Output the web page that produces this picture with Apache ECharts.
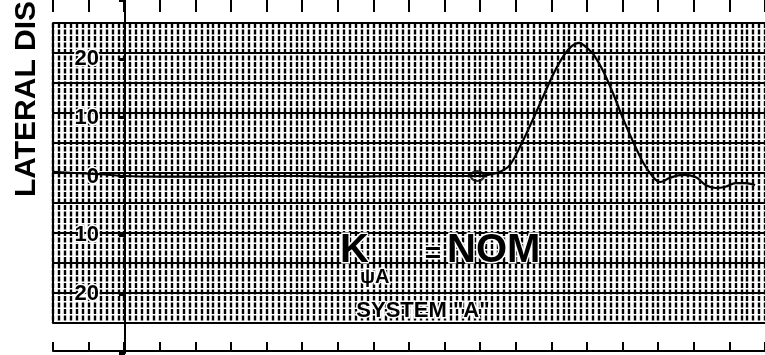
<!DOCTYPE html>
<html>
<head>
<meta charset="utf-8">
<script src="https://cdn.jsdelivr.net/npm/echarts@6.0.0/dist/echarts.min.js"></script>
<style>
html,body{margin:0;padding:0;background:#fff;}
#chart{width:765px;height:355px;}
</style>
</head>
<body>
<div id="chart"></div>
<script>
// ---- data ----
const timeVals = [-2, -1.39, -0.69, 0, 0.97, 2.08, 3.47, 4.86, 6.25, 7.64, 9.03, 9.92, 10.22, 10.56, 10.83, 11.17, 11.47, 11.81, 12.08, 12.36, 12.58, 12.78, 12.97, 13.19, 13.47, 13.75, 14.03, 14.31, 14.58, 14.86, 15.06, 15.33, 15.69, 16.06, 16.33, 16.61, 16.89, 17.17, 17.44, 17.72];
const lateralDisp = [0.2, 0, -0.2, -0.5, -0.6, -0.6, -0.5, -0.5, -0.6, -0.5, -0.5, -0.5, -0.3, 0.2, 1.3, 5, 8.8, 13.3, 16.8, 19.7, 21.2, 21.7, 21, 19.7, 16.8, 13, 8.8, 5, 1.7, -0.7, -1.5, -0.8, -0.3, -0.7, -2, -2.5, -2.3, -1.7, -1.7, -2];
const markerTime = [9.92];
const markerDisp = [-0.5];
const yTickVals = [20, 10, 0, -10, -20];
const yTickLabels = ['20', '10', '0', '10', '20'];
const axisTitle = 'LATERAL DIS';
const gainSymbol = 'K';
const gainSub = 'ψA';
const gainEq = '=';
const gainValue = 'NOM';
const systemLabel = 'SYSTEM "A"';

const chart = echarts.init(document.getElementById('chart'), null, {renderer: 'canvas'});
const FONT = '"Liberation Sans", Arial, sans-serif';
const GRIDLINE = {color: '#000', width: 2.4, type: [5, 1.5]};

const option = {
  backgroundColor: '#fff',
  animation: false,
  grid: [
    {left: 53, right: -8, top: 23, bottom: 32},
    {left: 53, right: -8, top: -7, bottom: 2},
    {left: 53, right: -8, top: 300, bottom: 4},
    {left: 125, right: -8, top: -7, bottom: 2}
  ],
  xAxis: [
    {
      gridIndex: 0, type: 'value', min: -2, max: 18, interval: 1,
      axisLine: {show: false, onZero: false}, axisTick: {show: false}, axisLabel: {show: false},
      minorTick: {show: false, splitNumber: 6},
      splitLine: {show: true, lineStyle: GRIDLINE},
      minorSplitLine: {show: true, lineStyle: GRIDLINE}
    },
    {
      gridIndex: 1, type: 'value', position: 'top', min: -2, max: 18, interval: 1,
      axisLine: {show: false, onZero: false},
      axisTick: {show: true, inside: true, length: 12, lineStyle: {color: '#000', width: 2}},
      axisLabel: {show: false}, splitLine: {show: false}
    },
    {
      gridIndex: 2, type: 'value', position: 'bottom', min: -2, max: 18, interval: 1,
      axisLine: {show: true, onZero: false, lineStyle: {color: '#000', width: 2}},
      axisTick: {show: true, inside: true, length: 9, lineStyle: {color: '#000', width: 2}},
      axisLabel: {show: false}, splitLine: {show: false}
    },
    {
      gridIndex: 3, type: 'value', show: false, min: 0, max: 18
    }
  ],
  yAxis: [
    {
      gridIndex: 0, type: 'value', min: -25, max: 25, interval: 5,
      axisLine: {show: true, onZero: false, lineStyle: {color: '#000', width: 2}},
      axisTick: {show: false}, axisLabel: {show: false},
      splitLine: {show: true, lineStyle: {color: '#000', width: 2}}
    },
    {
      gridIndex: 1, type: 'value', show: false, min: -30, max: 30
    },
    {
      gridIndex: 2, type: 'value', show: false, min: 0, max: 1
    },
    {
      gridIndex: 3, type: 'value', position: 'left', min: -30, max: 30, interval: 10,
      axisLine: {show: true, onZero: false, lineStyle: {color: '#000', width: 2}},
      axisTick: {show: true, length: 6, lineStyle: {color: '#000', width: 3}},
      splitLine: {show: false},
      axisLabel: {
        show: true, margin: 26, color: '#000', fontSize: 22, fontWeight: 'bold', fontFamily: FONT,
        textBorderColor: '#fff', textBorderWidth: 3,
        formatter: function (v) {
          const i = yTickVals.indexOf(v);
          return i >= 0 ? yTickLabels[i] : '';
        }
      }
    }
  ],
  series: [
    {
      type: 'line', xAxisIndex: 0, yAxisIndex: 0,
      data: timeVals.map((t, i) => [t, lateralDisp[i]]),
      showSymbol: false, smooth: 0.35,
      lineStyle: {color: '#000', width: 2.2}, z: 5
    },
    {
      type: 'scatter', xAxisIndex: 0, yAxisIndex: 0,
      data: markerTime.map((t, i) => [t, markerDisp[i]]),
      symbol: 'circle', symbolSize: [13, 10],
      itemStyle: {color: 'rgba(0,0,0,0)', borderColor: '#000', borderWidth: 2.2}, z: 6
    }
  ],
  graphic: [
    {
      type: 'text', x: 27, y: 197, rotation: Math.PI / 2, z: 10,
      style: {text: axisTitle, font: 'bold 30px ' + FONT, fill: '#000',
        align: 'left', verticalAlign: 'middle', textAlign: 'left', textVerticalAlign: 'middle'}
    },
    {
      type: 'text', x: 340, y: 251, z: 10,
      style: {text: gainSymbol, font: 'bold 40px ' + FONT, fill: '#000', stroke: '#fff', lineWidth: 3,
        align: 'left', verticalAlign: 'middle', textAlign: 'left', textVerticalAlign: 'middle'}
    },
    {
      type: 'text', x: 360, y: 277, z: 11,
      style: {text: gainSub, font: 'bold 20px ' + FONT, fill: '#000', stroke: '#fff', lineWidth: 3,
        align: 'left', verticalAlign: 'middle', textAlign: 'left', textVerticalAlign: 'middle'}
    },
    {
      type: 'text', x: 433, y: 254, z: 10,
      style: {text: gainEq, font: 'bold 28px ' + FONT, fill: '#000', stroke: '#fff', lineWidth: 3,
        align: 'center', verticalAlign: 'middle', textAlign: 'center', textVerticalAlign: 'middle'}
    },
    {
      type: 'text', x: 447, y: 251, z: 10,
      style: {text: gainValue, font: 'bold 40px ' + FONT, fill: '#000', stroke: '#fff', lineWidth: 3,
        align: 'left', verticalAlign: 'middle', textAlign: 'left', textVerticalAlign: 'middle'}
    },
    {
      type: 'text', x: 423, y: 311, z: 10,
      style: {text: systemLabel, font: 'bold 22px ' + FONT, fill: '#000', stroke: '#fff', lineWidth: 3,
        align: 'center', verticalAlign: 'middle', textAlign: 'center', textVerticalAlign: 'middle'}
    }
  ]
};
chart.setOption(option);
</script>
</body>
</html>
